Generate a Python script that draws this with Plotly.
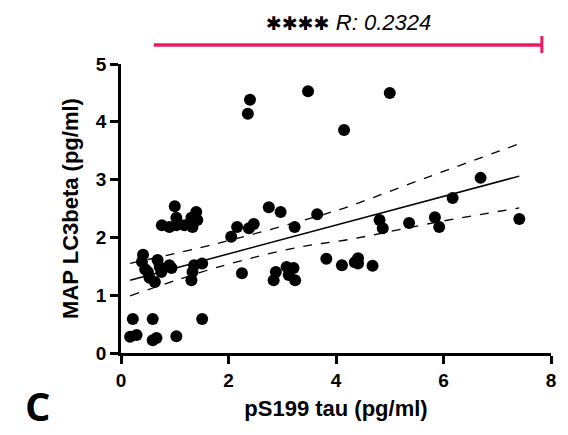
import plotly.graph_objects as go

# Data
tau = [0.17, 0.29, 0.22, 0.59, 0.66, 0.59, 1.03, 1.51,
       0.41, 0.39, 0.50, 0.53, 0.63, 0.68, 0.72, 0.75, 0.94, 0.90, 1.31, 1.33, 1.36, 1.51, 0.45,
       1.00, 0.76, 0.90, 1.03, 1.03, 1.18, 1.33, 1.40, 1.42, 1.31,
       2.05, 2.16, 2.38, 2.47, 2.75, 2.97, 3.23, 3.65,
       2.25, 2.88, 2.84, 3.08, 3.21, 3.24, 3.12,
       3.82, 4.11, 4.35, 4.41, 4.41, 4.68,
       4.81, 4.87, 5.36, 5.84, 5.92, 6.17, 6.69, 7.41,
       2.36, 2.40, 3.48, 5.00, 4.15]
lc3 = [0.28, 0.31, 0.59, 0.59, 0.26, 0.22, 0.29, 0.59,
       1.70, 1.58, 1.40, 1.30, 1.23, 1.61, 1.49, 1.40, 1.47, 1.52, 1.26, 1.40, 1.52, 1.55, 1.45,
       2.54, 2.21, 2.18, 2.34, 2.21, 2.21, 2.18, 2.44, 2.30, 2.34,
       2.01, 2.18, 2.16, 2.23, 2.52, 2.44, 2.18, 2.40,
       1.38, 1.40, 1.26, 1.49, 1.47, 1.26, 1.35,
       1.63, 1.52, 1.57, 1.64, 1.55, 1.51,
       2.30, 2.16, 2.25, 2.35, 2.18, 2.68, 3.03, 2.32,
       4.14, 4.38, 4.53, 4.50, 3.86]

fit_x = [0.17, 7.41]
fit_y = [1.26, 3.06]
ci_upper_x = [0.17, 1.82, 3.85, 4.22, 5.70, 7.41]
ci_upper_y = [1.55, 1.90, 2.42, 2.53, 3.04, 3.62]
ci_lower_x = [0.17, 1.82, 3.30, 4.22, 5.97, 7.41]
ci_lower_y = [0.99, 1.49, 1.83, 1.96, 2.28, 2.51]

x_ticks = [0, 2, 4, 6, 8]
y_ticks = [0, 1, 2, 3, 4, 5]

sig_stars = "✱✱✱✱"
sig_r = "R: 0.2324"
bar_x = [0.61, 7.83]

fig = go.Figure()
fig.add_trace(go.Scatter(x=ci_upper_x, y=ci_upper_y, mode="lines", line=dict(color="black", width=1.3, dash="dash"),
                         line_shape="spline", hoverinfo="skip"))
fig.add_trace(go.Scatter(x=ci_lower_x, y=ci_lower_y, mode="lines", line=dict(color="black", width=1.3, dash="dash"),
                         line_shape="spline", hoverinfo="skip"))
fig.add_trace(go.Scatter(x=fit_x, y=fit_y, mode="lines", line=dict(color="black", width=1.5)))
fig.add_trace(go.Scatter(x=tau, y=lc3, mode="markers", marker=dict(color="black", size=12)))

# significance bar
fig.add_shape(type="line", xref="x", yref="paper", x0=bar_x[0], x1=bar_x[1], y0=1.066, y1=1.066,
              line=dict(color="#EE1A60", width=3.5))
fig.add_shape(type="line", xref="x", yref="paper", x0=bar_x[1], x1=bar_x[1], y0=1.038, y1=1.097,
              line=dict(color="#EE1A60", width=3))
label = ("<span style='font-family:DejaVu Sans;font-size:19px'>" + sig_stars + "</span> "
         "<i>" + sig_r + "</i>")
fig.add_annotation(x=4.24, y=1.145, xref="x", yref="paper", text=label, showarrow=False,
                   xanchor="center", yanchor="middle",
                   font=dict(family="Liberation Sans", size=22, color="black"))
fig.add_annotation(x=-0.228, y=-0.182, xref="paper", yref="paper", text="<b>C</b>", showarrow=False,
                   xanchor="left", yanchor="middle",
                   font=dict(family="Open Sans", size=40, color="black"))

title_font = dict(family="Liberation Sans", size=22, color="black")
axis_common = dict(showline=True, linecolor="black", linewidth=2.5, ticks="outside", tickwidth=2.5,
                   ticklen=8, tickcolor="black", showgrid=False, zeroline=False,
                   tickfont=dict(family="Liberation Sans", size=19, color="black", weight="bold"))
fig.update_xaxes(range=[0, 8], tickvals=x_ticks, ticktext=["<b>%d</b>" % v for v in x_ticks],
                 title=dict(text="<b>pS199 tau (pg/ml)</b>", standoff=12, font=title_font), **axis_common)
fig.update_yaxes(range=[0, 5], tickvals=y_ticks, ticktext=["<b>%d</b>" % v for v in y_ticks],
                 title=dict(text="<b>MAP LC3beta (pg/ml)</b>", standoff=12, font=title_font), **axis_common)

fig.update_layout(width=568, height=435, margin=dict(l=121, r=13, t=64, b=82),
                  plot_bgcolor="white", paper_bgcolor="white", showlegend=False)
fig.write_html("out.html")
